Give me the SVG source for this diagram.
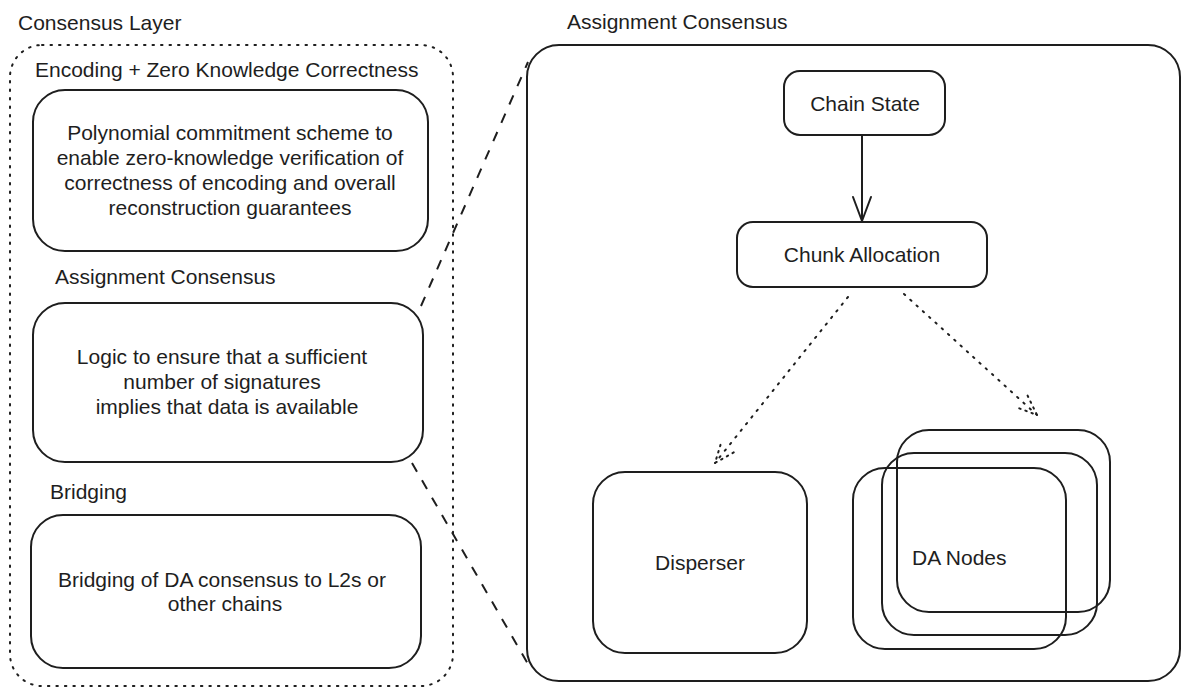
<svg xmlns="http://www.w3.org/2000/svg" width="1189" height="696" viewBox="0 0 1189 696">
  <style>
    .bg { fill: #ffffff; }
    .box { fill: none; stroke: #1e1e1e; stroke-width: 2; stroke-linejoin: round; }
    .dotted { fill: none; stroke: #1e1e1e; stroke-width: 2; stroke-dasharray: 1.5 7; stroke-linecap: round; }
    .dashed { fill: none; stroke: #1e1e1e; stroke-width: 2; stroke-dasharray: 10 10; }
    .solid { fill: none; stroke: #1e1e1e; stroke-width: 2; }
    .t { font-family: "Liberation Sans", Arial, sans-serif; font-size: 21px; fill: #1e1e1e; }
    .c { text-anchor: middle; }
  </style>
  <defs>
    <marker id="arrowSolid" markerUnits="userSpaceOnUse" markerWidth="40" markerHeight="40" refX="0" refY="0" viewBox="-30 -15 40 30" orient="auto" overflow="visible">
      <path d="M -24 -9 L 0 0 L -24 9" fill="none" stroke="#1e1e1e" stroke-width="2" stroke-linecap="round" stroke-linejoin="round"/>
    </marker>
    <marker id="arrowDotted" markerUnits="userSpaceOnUse" markerWidth="40" markerHeight="40" refX="0" refY="0" viewBox="-30 -15 40 30" orient="auto" overflow="visible">
      <path d="M -20 -8 L 0 0 L -20 8" fill="none" stroke="#1e1e1e" stroke-width="2" stroke-dasharray="1.5 5" stroke-linecap="round"/>
    </marker>
  </defs>
  <rect class="bg" x="0" y="0" width="1189" height="696"/>

  <g id="consensus-layer">
    <text class="t" x="18" y="30">Consensus Layer</text>
    <rect class="dotted" x="10" y="45" width="443" height="641" rx="32"/>
  </g>

  <g id="encoding">
    <text class="t" x="35" y="77">Encoding + Zero Knowledge Correctness</text>
    <rect class="box" x="33" y="90" width="395" height="161" rx="32"/>
    <text class="t c" x="230" y="140">Polynomial commitment scheme to</text>
    <text class="t c" x="230" y="165">enable zero-knowledge verification of</text>
    <text class="t c" x="230" y="190">correctness of encoding and overall</text>
    <text class="t c" x="230" y="215">reconstruction guarantees</text>
  </g>

  <g id="assignment">
    <text class="t" x="55" y="284">Assignment Consensus</text>
    <rect class="box" x="33" y="303" width="390" height="159" rx="32"/>
    <text class="t c" x="222" y="364">Logic to ensure that a sufficient</text>
    <text class="t c" x="222" y="389">number of signatures</text>
    <text class="t c" x="227" y="414">implies that data is available</text>
  </g>

  <g id="bridging">
    <text class="t" x="50" y="499">Bridging</text>
    <rect class="box" x="31" y="515" width="390" height="153" rx="32"/>
    <text class="t c" x="222" y="587">Bridging of DA consensus to L2s or</text>
    <text class="t c" x="225" y="611">other chains</text>
  </g>

  <g id="assignment-detail">
    <text class="t" x="567" y="29">Assignment Consensus</text>
    <rect class="box" x="527" y="45" width="653" height="636" rx="32"/>
  </g>

  <g id="chain-state">
    <rect class="box" x="784" y="71" width="161" height="64" rx="16"/>
    <text class="t c" x="865" y="111">Chain State</text>
  </g>

  <g id="chunk-allocation">
    <rect class="box" x="737" y="222" width="250" height="65" rx="16"/>
    <text class="t c" x="862" y="262">Chunk Allocation</text>
  </g>

  <g id="disperser">
    <rect class="box" x="593" y="472" width="214" height="181" rx="32"/>
    <text class="t c" x="700" y="570">Disperser</text>
  </g>

  <g id="da-nodes">
    <rect class="box" x="853" y="468" width="213" height="181" rx="32"/>
    <rect class="box" x="882" y="453" width="215" height="182" rx="32"/>
    <rect class="box" x="897" y="430" width="213" height="182" rx="32"/>
    <text class="t" x="912" y="565">DA Nodes</text>
  </g>

  <g id="connectors">
    <path class="solid" d="M 862 135 L 862 221" marker-end="url(#arrowSolid)"/>
    <path class="dotted" d="M 848 297 L 715 463" marker-end="url(#arrowDotted)"/>
    <path class="dotted" d="M 904 294 L 1037 415" marker-end="url(#arrowDotted)"/>
    <path class="dashed" d="M 421 306 L 528 62"/>
    <path class="dashed" d="M 412 463 L 528 664"/>
  </g>
</svg>
